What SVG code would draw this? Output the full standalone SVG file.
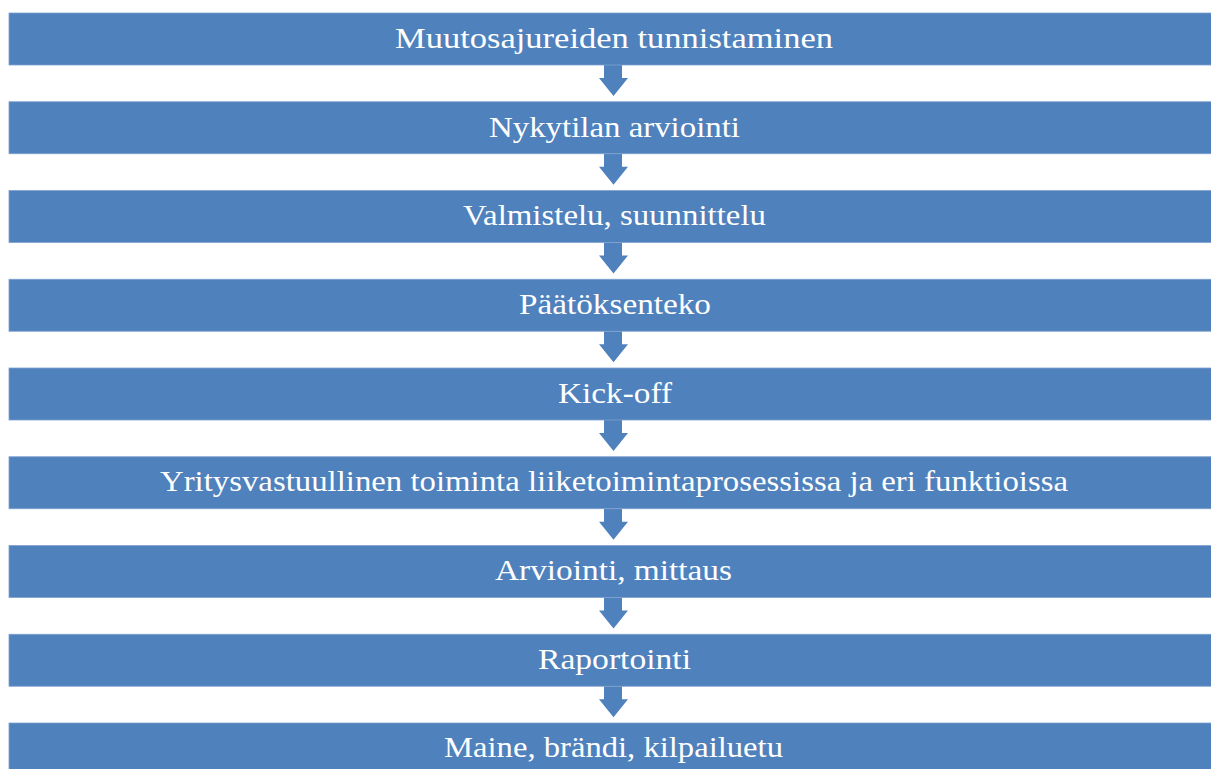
<svg xmlns="http://www.w3.org/2000/svg" width="1211" height="769" viewBox="0 0 1211 769">
<style>
.box{fill:#4F81BD;stroke:#7FA1CF;stroke-width:0.8}
.lbl{font-family:"Liberation Serif",serif;font-size:30px;fill:#FFFFFF;text-anchor:middle}
.arr{fill:#4F81BD}
</style>
<defs>
<path id="a" class="arr" d="M604,0 H622 V13 H628 L613.5,31 L599,13 H604 Z"/>
</defs>
<rect width="1211" height="769" fill="#FFFFFF"/>
<g id="connectors">
<use href="#a" y="65"/>
<use href="#a" y="153.75"/>
<use href="#a" y="242.5"/>
<use href="#a" y="331.25"/>
<use href="#a" y="420"/>
<use href="#a" y="508.75"/>
<use href="#a" y="597.5"/>
<use href="#a" y="686.25"/>
</g>
<g id="n1"><rect class="box" x="9" y="13" width="1210" height="52"/><text class="lbl" x="614" y="47.5" textLength="438" lengthAdjust="spacingAndGlyphs">Muutosajureiden tunnistaminen</text></g>
<g id="n2"><rect class="box" x="9" y="101.75" width="1210" height="52"/><text class="lbl" x="614.5" y="136.5" textLength="251" lengthAdjust="spacingAndGlyphs">Nykytilan arviointi</text></g>
<g id="n3"><rect class="box" x="9" y="190.5" width="1210" height="52"/><text class="lbl" x="614.5" y="225" textLength="303" lengthAdjust="spacingAndGlyphs">Valmistelu, suunnittelu</text></g>
<g id="n4"><rect class="box" x="9" y="279.25" width="1210" height="52"/><text class="lbl" x="615" y="313.75" textLength="192" lengthAdjust="spacingAndGlyphs">Päätöksenteko</text></g>
<g id="n5"><rect class="box" x="9" y="368" width="1210" height="52"/><text class="lbl" x="615" y="402.5" textLength="114" lengthAdjust="spacingAndGlyphs">Kick-off</text></g>
<g id="n6"><rect class="box" x="9" y="456.75" width="1210" height="52"/><text class="lbl" x="614" y="491.25" textLength="908" lengthAdjust="spacingAndGlyphs">Yritysvastuullinen toiminta liiketoimintaprosessissa ja eri funktioissa</text></g>
<g id="n7"><rect class="box" x="9" y="545.5" width="1210" height="52"/><text class="lbl" x="613.5" y="580" textLength="237" lengthAdjust="spacingAndGlyphs">Arviointi, mittaus</text></g>
<g id="n8"><rect class="box" x="9" y="634.25" width="1210" height="52"/><text class="lbl" x="614.5" y="668.75" textLength="153" lengthAdjust="spacingAndGlyphs">Raportointi</text></g>
<g id="n9"><rect class="box" x="9" y="723" width="1210" height="52"/><text class="lbl" x="613.5" y="757" textLength="339" lengthAdjust="spacingAndGlyphs">Maine, brändi, kilpailuetu</text></g>
</svg>
